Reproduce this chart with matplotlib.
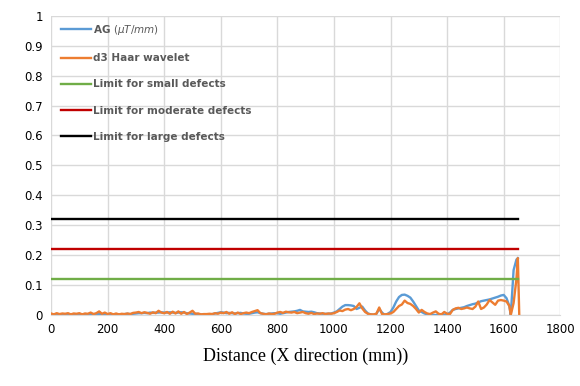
import numpy as np
import matplotlib
matplotlib.use("Agg")
import matplotlib.pyplot as plt

# distance (mm): 0..1610 every 10 mm, then the tail around the final spike
distance = list(range(0, 1620, 10)) + [1620, 1625, 1635, 1645, 1650, 1655]

ag = [
    0.002, 0.001, 0.002, 0.001, 0.002, 0.002, 0.001, 0.002, 0.001, 0.002,
    0.002, 0.002, 0.003, 0.002, 0.003, 0.003, 0.002, 0.003, 0.003, 0.002,
    0.002, 0.001, 0.002, 0.001, 0.002, 0.002, 0.003, 0.004, 0.003, 0.004,
    0.005, 0.006, 0.006, 0.007, 0.006, 0.008, 0.007, 0.008, 0.008, 0.009,
    0.008, 0.008, 0.009, 0.008, 0.007, 0.008, 0.009, 0.008, 0.006, 0.005,
    0.004, 0.004, 0.003, 0.002, 0.002, 0.002, 0.002, 0.003, 0.005, 0.007,
    0.009, 0.008, 0.006, 0.007, 0.006, 0.005, 0.006, 0.007, 0.005, 0.004,
    0.004, 0.006, 0.008, 0.009, 0.006, 0.004, 0.003, 0.004, 0.005, 0.006,
    0.006, 0.004, 0.006, 0.008, 0.010, 0.011, 0.012, 0.014, 0.017, 0.012,
    0.011, 0.010, 0.011, 0.009, 0.006, 0.005, 0.004, 0.004, 0.004, 0.005,
    0.008, 0.012, 0.020, 0.028, 0.033, 0.033, 0.032, 0.030, 0.020, 0.024,
    0.028, 0.015, 0.005, 0.002, 0.000, 0.004, 0.020, 0.008, 0.000, 0.004,
    0.010, 0.025, 0.045, 0.060, 0.067, 0.068, 0.064, 0.058, 0.045, 0.030,
    0.015, 0.010, 0.005, 0.002, 0.000, 0.000, 0.000, 0.001, 0.000, 0.001,
    0.002, 0.008, 0.017, 0.020, 0.022, 0.024, 0.026, 0.030, 0.033, 0.036,
    0.038, 0.042, 0.046, 0.048, 0.050, 0.052, 0.055, 0.058, 0.061, 0.065,
    0.067, 0.056,
    0.030, 0.000, 0.150, 0.185, 0.190, np.nan,
]

d3_haar = [
    0.005, 0.002, 0.006, 0.003, 0.005, 0.004, 0.006, 0.002, 0.005, 0.004,
    0.006, 0.002, 0.005, 0.004, 0.008, 0.003, 0.006, 0.012, 0.004, 0.008,
    0.003, 0.006, 0.002, 0.005, 0.002, 0.004, 0.003, 0.005, 0.003, 0.007,
    0.008, 0.010, 0.006, 0.009, 0.007, 0.004, 0.009, 0.006, 0.014, 0.008,
    0.006, 0.010, 0.004, 0.011, 0.005, 0.012, 0.004, 0.010, 0.003, 0.008,
    0.014, 0.004, 0.005, 0.002, 0.003, 0.003, 0.004, 0.003, 0.006, 0.004,
    0.008, 0.006, 0.010, 0.004, 0.009, 0.003, 0.008, 0.003, 0.006, 0.008,
    0.006, 0.010, 0.013, 0.016, 0.006, 0.004, 0.002, 0.005, 0.003, 0.004,
    0.008, 0.010, 0.007, 0.011, 0.009, 0.008, 0.010, 0.006, 0.008, 0.010,
    0.006, 0.004, 0.007, 0.003, 0.005, 0.004, 0.006, 0.003, 0.005, 0.004,
    0.006, 0.010, 0.015, 0.013, 0.018, 0.020, 0.016, 0.020, 0.027, 0.039,
    0.022, 0.010, 0.004, 0.002, 0.002, 0.004, 0.025, 0.003, 0.002, 0.003,
    0.005, 0.010, 0.020, 0.030, 0.035, 0.048, 0.040, 0.037, 0.030, 0.020,
    0.008, 0.017, 0.010, 0.005, 0.003, 0.008, 0.012, 0.004, 0.002, 0.010,
    0.004, 0.003, 0.017, 0.022, 0.024, 0.020, 0.022, 0.025, 0.022, 0.020,
    0.028, 0.045, 0.020, 0.025, 0.035, 0.050, 0.042, 0.034, 0.048, 0.050,
    0.048, 0.045,
    0.030, 0.000, 0.040, 0.120, 0.190, 0.000,
]

limit_x = [0, 1650]
limit_small = 0.12
limit_moderate = 0.22
limit_large = 0.32


def generate_plot():
    fig = plt.figure(figsize=(5.8, 3.86), dpi=100)
    ax = fig.add_axes([0.088, 0.184, 0.878, 0.775])

    ax.plot(distance, ag, color='#5B9BD5', lw=1.7, label=r'AG $(\mu T/mm)$')
    ax.plot(distance, d3_haar, color='#ED7D31', lw=1.7, label='d3 Haar wavelet')
    ax.plot(limit_x, [limit_small] * 2, color='#70AD47', lw=1.7,
            label='Limit for small defects')
    ax.plot(limit_x, [limit_moderate] * 2, color='#C00000', lw=1.7,
            label='Limit for moderate defects')
    ax.plot(limit_x, [limit_large] * 2, color='black', lw=1.7,
            label='Limit for large defects')

    ax.set_xlim(0, 1800)
    ax.set_ylim(0, 1)
    ax.set_xticks(range(0, 1801, 200))
    ax.set_yticks(np.arange(0, 1.01, 0.1))
    ax.set_yticklabels(['0', '0.1', '0.2', '0.3', '0.4', '0.5',
                        '0.6', '0.7', '0.8', '0.9', '1'])
    ax.grid(True, color='#d9d9d9', lw=1)
    ax.set_axisbelow(True)
    for s in ['top', 'right', 'left']:
        ax.spines[s].set_visible(False)
    ax.spines['bottom'].set_color('#d9d9d9')
    ax.tick_params(length=0, labelsize=8.5, colors='black', pad=6)

    ax.set_xlabel('Distance (X direction (mm))', family='Liberation Serif',
                  fontsize=13, labelpad=8)

    leg = ax.legend(loc='upper left', frameon=False, fontsize=7.5,
                    labelspacing=1.55, handlelength=2.9, handletextpad=0.2,
                    bbox_to_anchor=(0.005, 1.0), borderaxespad=0.3)
    for t in leg.get_texts():
        t.set_color('#595959')
        t.set_fontweight('bold')

    plt.savefig('out.png', dpi=100)


if __name__ == '__main__':
    generate_plot()
